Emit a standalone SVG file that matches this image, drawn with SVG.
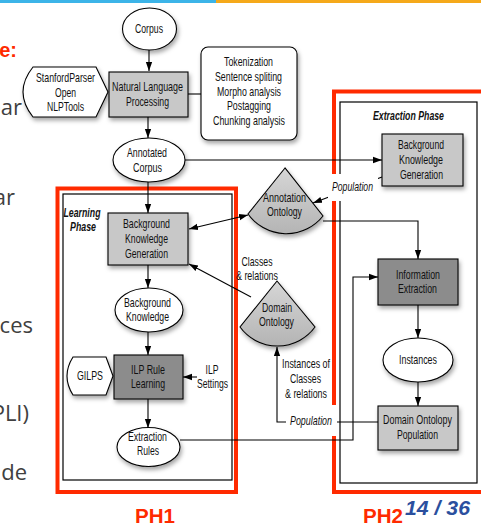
<svg xmlns="http://www.w3.org/2000/svg" width="481" height="526" viewBox="0 0 481 526">
  <style>
    .t { font-family: "Liberation Sans", Arial, sans-serif; font-size: 13px; fill: #111; text-anchor: middle; }
    .it { font-style: italic; }
    .bi { font-style: italic; font-weight: bold; }
    .slide { font-family: "Open Sans", "Noto Sans", sans-serif; font-size: 22px; fill: #404040; text-anchor: end; }
    .ph { font-family: "Liberation Sans", Arial, sans-serif; font-size: 20px; font-weight: bold; fill: #ff2a00; }
    .ell { fill: #fff; stroke: #000; stroke-width: 1.1; }
    .lbox { fill: #c8c8c8; stroke: #000; stroke-width: 1.1; }
    .dbox { fill: #8c8c8c; stroke: #000; stroke-width: 1.1; }
    .fan { fill: url(#fanGrad); stroke: #000; stroke-width: 1.1; }
    .wbox { fill: #fff; stroke: #000; stroke-width: 1.1; }
    .conn { fill: none; stroke: #000; stroke-width: 1.1; }
    .red { fill: none; stroke: #ff2a00; stroke-width: 4; }
    .frame { fill: #fff; stroke: #000; stroke-width: 1.2; }
    .sh { filter: url(#shadow); }
  </style>
  <defs>
    <filter id="shadow" x="-20%" y="-20%" width="150%" height="160%">
      <feDropShadow dx="1.5" dy="3" stdDeviation="2" flood-color="#000" flood-opacity="0.35"/>
    </filter>
    <linearGradient id="fanGrad" x1="0" y1="0" x2="0" y2="1">
      <stop offset="0" stop-color="#d6d6d6"/>
      <stop offset="1" stop-color="#b4b4b4"/>
    </linearGradient>
    <marker id="ah" viewBox="0 0 10 10" refX="10" refY="5" markerWidth="9" markerHeight="9" markerUnits="userSpaceOnUse" orient="auto-start-reverse">
      <path d="M0,1.5 L10,5 L0,8.5 z" fill="#000"/>
    </marker>
  </defs>

  <!-- slide background and header strip -->
  <rect x="0" y="0" width="481" height="526" fill="#fff"/>
  <rect x="0" y="0" width="216" height="3" fill="#3cb4e8"/>
  <rect x="216" y="0" width="265" height="3" fill="#f5a91a"/>

  <!-- slide body text cut at the left edge -->
  <text x="17" y="57" font-family="Liberation Sans, Arial, sans-serif" font-size="20" font-weight="bold" fill="#ff2a00" text-anchor="end">e:</text>
  <text class="slide" x="22" y="115">par</text>
  <text class="slide" x="15" y="205">ar</text>
  <text class="slide" x="33" y="333">ces</text>
  <text class="slide" x="29" y="421">PLI)</text>
  <text class="slide" x="27" y="480">de</text>

  <!-- phase frames -->
  <g id="ph1-frame">
    <rect class="red" x="57.5" y="188.5" width="178.5" height="303.5"/>
    <rect class="frame" x="63" y="194" width="169" height="286"/>
    <text class="t bi" x="82" y="217" textLength="37" lengthAdjust="spacingAndGlyphs">Learning</text>
    <text class="t bi" x="83" y="231" textLength="26" lengthAdjust="spacingAndGlyphs">Phase</text>
  </g>
  <g id="ph2-frame">
    <rect class="red" x="334" y="91.5" width="152" height="400.5"/>
    <rect class="frame" x="340" y="102" width="137" height="381"/>
    <text class="t bi" x="408.5" y="120" textLength="71" lengthAdjust="spacingAndGlyphs">Extraction Phase</text>
  </g>

  <!-- connectors -->
  <g id="connectors">
    <path class="conn" d="M149,50 L149,71" marker-end="url(#ah)"/>
    <path class="conn" d="M148,117 L148,138" marker-end="url(#ah)"/>
    <path class="conn" d="M188,94 L201,94"/>
    <path class="conn" d="M185,160 L382,160" marker-end="url(#ah)"/>
    <path class="conn" d="M148,182 L148,213" marker-end="url(#ah)"/>
    <path class="conn" d="M248,215 L189,229" marker-start="url(#ah)" marker-end="url(#ah)"/>
    <path class="conn" d="M382,177 L313,203" marker-end="url(#ah)"/>
    <path class="conn" d="M323,221 L418,221 L418,259" marker-end="url(#ah)"/>
    <path class="conn" d="M251,297 L189,264" marker-end="url(#ah)"/>
    <path class="conn" d="M148,265 L148,288" marker-end="url(#ah)"/>
    <path class="conn" d="M148,332 L148,355" marker-end="url(#ah)"/>
    <path class="conn" d="M197,377 L183,377" marker-end="url(#ah)"/>
    <path class="conn" d="M148,399 L148,428" marker-end="url(#ah)"/>
    <path class="conn" d="M180,440 L353,440 L353,277 L378,277" marker-end="url(#ah)"/>
    <path class="conn" d="M418,305 L418,338" marker-end="url(#ah)"/>
    <path class="conn" d="M418,382 L418,406" marker-end="url(#ah)"/>
    <path class="conn" d="M378,422 L277,422 L277,347" marker-end="url(#ah)"/>

    <!-- connector labels -->
    <rect x="328" y="174" width="50" height="27" fill="#fff"/>
    <text class="t it" x="352.5" y="191" textLength="41" lengthAdjust="spacingAndGlyphs">Population</text>
    <rect x="286" y="405" width="51" height="31" fill="#fff"/>
    <text class="t it" x="311" y="425" textLength="42" lengthAdjust="spacingAndGlyphs">Population</text>
    <text class="t" x="257" y="266" textLength="31" lengthAdjust="spacingAndGlyphs">Classes</text>
    <text class="t" x="257" y="280" textLength="42" lengthAdjust="spacingAndGlyphs">&amp; relations</text>
    <text class="t" x="306" y="368" textLength="48" lengthAdjust="spacingAndGlyphs">Instances of</text>
    <text class="t" x="305.5" y="383" textLength="31" lengthAdjust="spacingAndGlyphs">Classes</text>
    <text class="t" x="306" y="398" textLength="42" lengthAdjust="spacingAndGlyphs">&amp; relations</text>
    <text class="t" x="212" y="373.5" textLength="13" lengthAdjust="spacingAndGlyphs">ILP</text>
    <text class="t" x="212.5" y="388" textLength="31" lengthAdjust="spacingAndGlyphs">Settings</text>
  </g>

  <!-- nodes -->
  <g id="corpus">
    <ellipse class="ell sh" cx="149.5" cy="29" rx="27" ry="21"/>
    <text class="t" x="149" y="33" textLength="28" lengthAdjust="spacingAndGlyphs">Corpus</text>
  </g>
  <g id="stanford-parser">
    <path class="wbox sh" d="M33,67 L96,67 L108,92 L96,117 L33,117 Q13,92 33,67 Z"/>
    <text class="t" x="65.5" y="82" textLength="59" lengthAdjust="spacingAndGlyphs">StanfordParser</text>
    <text class="t" x="65.5" y="96.5" textLength="21" lengthAdjust="spacingAndGlyphs">Open</text>
    <text class="t" x="65.5" y="111" textLength="37" lengthAdjust="spacingAndGlyphs">NLPTools</text>
  </g>
  <g id="nlp">
    <rect class="lbox sh" x="109" y="72" width="79" height="45"/>
    <text class="t" x="147.5" y="91" textLength="71" lengthAdjust="spacingAndGlyphs">Natural Language</text>
    <text class="t" x="147.5" y="106" textLength="43" lengthAdjust="spacingAndGlyphs">Processing</text>
  </g>
  <g id="nlp-tasks">
    <rect class="wbox sh" x="201" y="47" width="96" height="93" rx="7"/>
    <text class="t" x="248.5" y="66" textLength="49" lengthAdjust="spacingAndGlyphs">Tokenization</text>
    <text class="t" x="248.5" y="81" textLength="67" lengthAdjust="spacingAndGlyphs">Sentence spliting</text>
    <text class="t" x="249" y="95.5" textLength="64" lengthAdjust="spacingAndGlyphs">Morpho analysis</text>
    <text class="t" x="249" y="110" textLength="44" lengthAdjust="spacingAndGlyphs">Postagging</text>
    <text class="t" x="249" y="125" textLength="72" lengthAdjust="spacingAndGlyphs">Chunking analysis</text>
  </g>
  <g id="annotated-corpus">
    <ellipse class="ell sh" cx="149" cy="160" rx="36" ry="22"/>
    <text class="t" x="147" y="157" textLength="40" lengthAdjust="spacingAndGlyphs">Annotated</text>
    <text class="t" x="147.5" y="171.5" textLength="29" lengthAdjust="spacingAndGlyphs">Corpus</text>
  </g>
  <g id="bkg-extraction">
    <rect class="lbox sh" x="382" y="134" width="81" height="52"/>
    <text class="t" x="421" y="149" textLength="46" lengthAdjust="spacingAndGlyphs">Background</text>
    <text class="t" x="421" y="164" textLength="44" lengthAdjust="spacingAndGlyphs">Knowledge</text>
    <text class="t" x="421.5" y="178.5" textLength="43" lengthAdjust="spacingAndGlyphs">Generation</text>
  </g>
  <g id="annotation-ontology">
    <path class="fan sh" d="M285,168 L248,214 A47,47 0 0 0 323,216 Z"/>
    <text class="t" x="284.5" y="202" textLength="43" lengthAdjust="spacingAndGlyphs">Annotation</text>
    <text class="t" x="284.5" y="216" textLength="35" lengthAdjust="spacingAndGlyphs">Ontology</text>
  </g>
  <g id="bkg-learning">
    <rect class="lbox sh" x="108" y="213" width="80" height="52"/>
    <text class="t" x="146.5" y="227.5" textLength="47" lengthAdjust="spacingAndGlyphs">Background</text>
    <text class="t" x="146.5" y="243" textLength="43" lengthAdjust="spacingAndGlyphs">Knowledge</text>
    <text class="t" x="146.5" y="258" textLength="43" lengthAdjust="spacingAndGlyphs">Generation</text>
  </g>
  <g id="domain-ontology">
    <path class="fan sh" d="M277,281 L240,327 A46.5,46.5 0 0 0 315,327 Z"/>
    <text class="t" x="277" y="312" textLength="30" lengthAdjust="spacingAndGlyphs">Domain</text>
    <text class="t" x="276.5" y="326" textLength="35" lengthAdjust="spacingAndGlyphs">Ontology</text>
  </g>
  <g id="background-knowledge">
    <ellipse class="ell sh" cx="149" cy="310" rx="34" ry="22"/>
    <text class="t" x="147.5" y="307" textLength="47" lengthAdjust="spacingAndGlyphs">Background</text>
    <text class="t" x="147.5" y="321" textLength="43" lengthAdjust="spacingAndGlyphs">Knowledge</text>
  </g>
  <g id="information-extraction">
    <rect class="dbox sh" x="378" y="259" width="80" height="46"/>
    <text class="t" x="418" y="279" textLength="44" lengthAdjust="spacingAndGlyphs">Information</text>
    <text class="t" x="417.5" y="293" textLength="39" lengthAdjust="spacingAndGlyphs">Extraction</text>
  </g>
  <g id="gilps">
    <path class="wbox sh" d="M73,357 L106,357 L113,376 L106,395 L73,395 Q61,376 73,357 Z"/>
    <text class="t" x="90" y="379.5" textLength="26" lengthAdjust="spacingAndGlyphs">GILPS</text>
  </g>
  <g id="ilp-rule-learning">
    <rect class="dbox sh" x="114" y="355" width="69" height="44"/>
    <text class="t" x="148" y="373.5" textLength="34" lengthAdjust="spacingAndGlyphs">ILP Rule</text>
    <text class="t" x="148" y="388" textLength="34" lengthAdjust="spacingAndGlyphs">Learning</text>
  </g>
  <g id="instances">
    <ellipse class="ell sh" cx="418" cy="360" rx="35" ry="22"/>
    <text class="t" x="418" y="363.5" textLength="38" lengthAdjust="spacingAndGlyphs">Instances</text>
  </g>
  <g id="domain-ontology-population">
    <rect class="lbox sh" x="378" y="406" width="80" height="44"/>
    <text class="t" x="417.5" y="423.5" textLength="69" lengthAdjust="spacingAndGlyphs">Domain Ontolopy</text>
    <text class="t" x="417.5" y="439" textLength="41" lengthAdjust="spacingAndGlyphs">Population</text>
  </g>
  <g id="extraction-rules">
    <ellipse class="ell sh" cx="148.5" cy="447" rx="31.5" ry="19.5"/>
    <text class="t" x="147.5" y="441" textLength="39" lengthAdjust="spacingAndGlyphs">Extraction</text>
    <text class="t" x="148" y="455" textLength="22" lengthAdjust="spacingAndGlyphs">Rules</text>
  </g>

  <!-- phase captions and page number -->
  <text class="ph" x="135" y="523" textLength="40" lengthAdjust="spacingAndGlyphs">PH1</text>
  <text class="ph" x="363" y="523" textLength="40" lengthAdjust="spacingAndGlyphs">PH2</text>
  <text x="405" y="515" font-family="Liberation Sans, Arial, sans-serif" font-size="20" font-weight="bold" font-style="italic" fill="#2b4f9e" textLength="65" lengthAdjust="spacingAndGlyphs">14 / 36</text>
</svg>
